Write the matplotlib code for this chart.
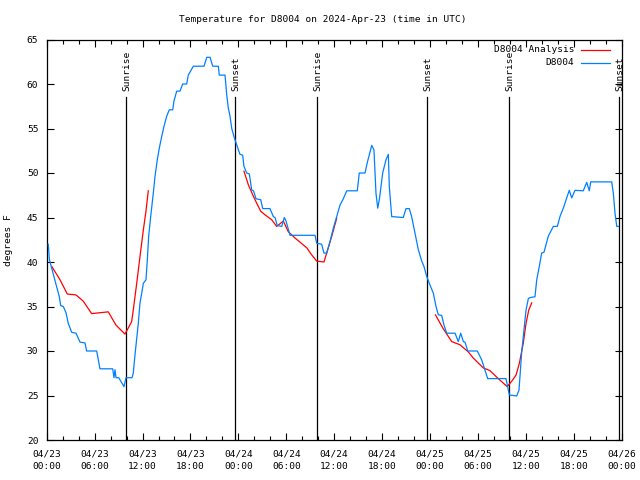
import numpy as np
import matplotlib
matplotlib.use("Agg")
import matplotlib.pyplot as plt
from matplotlib.ticker import MultipleLocator
from matplotlib.lines import Line2D

# ---- data (hours since 2024-04-23 00:00 UTC, degrees F) ----
obs_hours = [0.2, 0.33, 0.63, 0.91, 1.25, 1.58, 1.75, 2.08, 2.42, 2.7, 3.13, 3.67, 4.17, 4.8, 5.0,
             6.26, 6.67, 8.26, 8.43, 8.55, 8.68, 9.02, 9.68, 9.93, 10.68, 10.84, 11.06, 11.27,
             11.47, 11.68, 11.9, 12.1, 12.43, 12.6, 12.77, 13.02, 13.35, 13.56, 13.85, 14.1, 14.4,
             14.69, 15.03, 15.35, 15.78, 15.94, 16.28, 16.69, 17.03, 17.53, 17.73, 18.36, 19.7,
             20.04, 20.45, 20.79, 21.49, 21.61, 22.33, 22.54, 22.74, 22.95, 23.17, 23.45, 23.7,
             24.2, 24.54, 24.7, 25.04, 25.37, 25.67, 25.9, 26.21, 26.8, 27.05, 27.96, 28.38,
             28.59, 28.87, 29.43, 29.75, 29.97, 30.47, 33.6, 33.81, 34.43, 34.72, 35.06, 35.48,
             35.89, 36.31, 36.73, 37.14, 37.57, 38.89, 39.14, 39.86, 40.15, 40.7, 40.98, 41.23,
             41.45, 41.65, 42.07, 42.49, 42.78, 42.9, 43.2, 44.65, 44.99, 45.4, 45.7, 46.12,
             46.53, 46.96, 47.24, 47.58, 47.91, 48.41, 48.75, 49.04, 49.46, 49.75, 50.09, 51.13,
             51.54, 51.84, 52.17, 52.38, 52.72, 53.92, 54.47, 55.22, 57.51, 57.8, 57.93, 58.43,
             58.85, 59.14, 59.48, 59.77, 60.02, 60.31, 60.52, 61.14, 61.36, 61.68, 61.98, 62.27,
             62.81, 63.44, 63.94, 64.27, 64.77, 65.11, 65.44, 65.74, 66.15, 67.19, 67.62, 67.94,
             68.12, 70.75, 70.95, 71.16, 71.38, 71.6]
obs_temps = [42.0, 40.3, 39.3, 38.4, 37.25, 36.1, 35.1, 35.0, 34.3, 33.1, 32.1, 32.0, 31.0, 30.9, 30.0,
             30.0, 28.0, 28.0, 27.0, 27.9, 27.0, 27.0, 26.0, 27.0, 27.0, 27.5, 29.6, 31.4,
             33.1, 35.4, 36.5, 37.6, 38.0, 40.25, 42.9, 45.1, 47.75, 49.6, 51.5, 52.8, 54.1,
             55.25, 56.4, 57.1, 57.1, 58.1, 59.2, 59.2, 60.0, 60.0, 61.0, 62.0, 62.0,
             63.0, 63.0, 62.0, 62.0, 61.0, 61.0, 58.8, 57.3, 56.4, 55.0, 54.1, 53.4,
             52.1, 52.0, 50.75, 50.0, 49.9, 48.1, 48.0, 47.1, 47.0, 46.0, 46.0, 45.1,
             45.0, 44.1, 44.0, 45.0, 44.6, 43.0, 43.0, 42.1, 42.0, 41.0, 41.0, 42.3,
             43.8, 45.1, 46.4, 47.1, 48.0, 48.0, 50.0, 50.0, 51.2, 53.1, 52.6, 47.75,
             46.05, 47.0, 50.0, 51.5, 52.1, 48.5, 45.1, 45.0, 46.0, 46.0, 45.1, 43.25,
             41.4, 40.1, 39.5, 38.4, 37.6, 36.5, 35.0, 34.06, 34.0, 32.9, 32.0, 32.0,
             31.06, 32.0, 31.06, 31.0, 30.0, 30.0, 29.0, 26.9, 26.9, 25.6, 25.06, 25.0,
             24.95, 25.6, 29.9, 32.4, 34.6, 35.9, 36.0, 36.1, 38.0, 39.5, 41.0, 41.1,
             42.9, 44.0, 44.0, 45.1, 46.25, 47.2, 48.05, 47.2, 48.05, 48.0, 48.95, 48.0,
             49.0, 49.0, 47.75, 45.5, 44.0, 44.0]

ana_hours = [0.63, 1.67, 2.58, 3.67, 4.58, 5.63, 7.71, 8.68, 9.8, 10.64, 10.84, 11.27, 11.68, 12.1,
             12.43, 12.72, np.nan,
             24.7, 25.24, 25.87, 26.3, 26.8, 27.34, 28.17, 28.8, 29.63, 30.25, 31.09, 32.56,
             33.18, 33.81, 34.72, 35.06, 35.69, 36.31, np.nan,
             48.68, 49.59, 50.71, 51.75, 52.79, 53.42, 54.67, 55.5, 56.54, 57.66, 58.23, 58.77,
             59.18, 59.68, 60.02, 60.36, 60.73]
ana_temps = [39.5, 38.0, 36.4, 36.3, 35.6, 34.2, 34.4, 32.9, 31.9, 33.3, 34.6, 37.6, 40.6, 43.6,
             45.7, 48.0, np.nan,
             50.2, 48.7, 47.4, 46.6, 45.7, 45.3, 44.75, 44.0, 44.6, 43.4, 42.7, 41.6,
             40.8, 40.1, 40.0, 41.0, 42.9, 44.9, np.nan,
             34.06, 32.6, 31.06, 30.7, 29.9, 29.2, 28.1, 27.8, 26.9, 26.0, 26.6, 27.3,
             28.6, 30.9, 33.1, 34.6, 35.4]

sun_hours = [9.97, 23.62, 33.9, 47.66, 57.93, 71.66]
sun_labels = ["Sunrise", "Sunset", "Sunrise", "Sunset", "Sunrise", "Sunset"]

tick_hours = list(range(0, 73, 6))
tick_labels = ["04/23\n00:00", "04/23\n06:00", "04/23\n12:00", "04/23\n18:00",
               "04/24\n00:00", "04/24\n06:00", "04/24\n12:00", "04/24\n18:00",
               "04/25\n00:00", "04/25\n06:00", "04/25\n12:00", "04/25\n18:00",
               "04/26\n00:00"]

series_names = ["D8004 Analysis", "D8004"]
series_colors = ["#ff0000", "#0080ff"]

title = "Temperature for D8004 on 2024-Apr-23 (time in UTC)"

# ---- plot ----
plt.rcParams['font.family'] = ['DejaVu Sans Mono']
FS = 6.8
W, H = 640, 480
fig = plt.figure(figsize=(6.4, 4.8), dpi=100)
ax = fig.add_axes([46.7/W, 1 - 440/H, (621.7-46.7)/W, (440-39.5)/H])

ax.plot(ana_hours, ana_temps, color=series_colors[0], lw=0.9, zorder=3)
ax.plot(obs_hours, obs_temps, color=series_colors[1], lw=0.9, zorder=4)

for h, lab in zip(sun_hours, sun_labels):
    ax.plot([h, h], [20, 58.5], color='black', lw=0.9, zorder=2)
    ax.text(h + 0.1, 59.2, lab, rotation=90, ha='center', va='bottom', fontsize=FS)

ax.set_xlim(0, 72)
ax.set_ylim(20, 65)
ax.set_xticks(tick_hours)
ax.set_xticklabels(tick_labels, fontsize=FS, linespacing=1.5)
ax.xaxis.set_minor_locator(MultipleLocator(2))
ax.yaxis.set_major_locator(MultipleLocator(5))
ax.tick_params(axis='both', which='major', direction='in', length=5, width=0.8,
               top=True, right=True, labelsize=FS)
ax.tick_params(axis='x', which='major', pad=7)
ax.tick_params(axis='y', which='major', pad=6)
ax.tick_params(axis='both', which='minor', direction='in', length=3, width=0.8,
               top=True, right=True)
ax.tick_params(axis='y', which='minor', left=False, right=False)
for s in ax.spines.values():
    s.set_linewidth(0.9)

ax.set_ylabel("degrees F", fontsize=FS, labelpad=10)
fig.text(0.5 + 3/W, 1 - 19/H, title, ha='center', va='center', fontsize=FS)

# gnuplot-style key (text right-aligned, sample line on the right)
for i, (name, col) in enumerate(zip(series_names, series_colors)):
    yk = 1 - (50 + 12.5 * i) / H
    fig.text(574.3/W, yk, name, ha='right', va='center', fontsize=FS)
    fig.add_artist(Line2D([581/W, 610/W], [yk, yk], color=col, lw=0.9,
                          transform=fig.transFigure))

fig.savefig("out.png", dpi=100)
